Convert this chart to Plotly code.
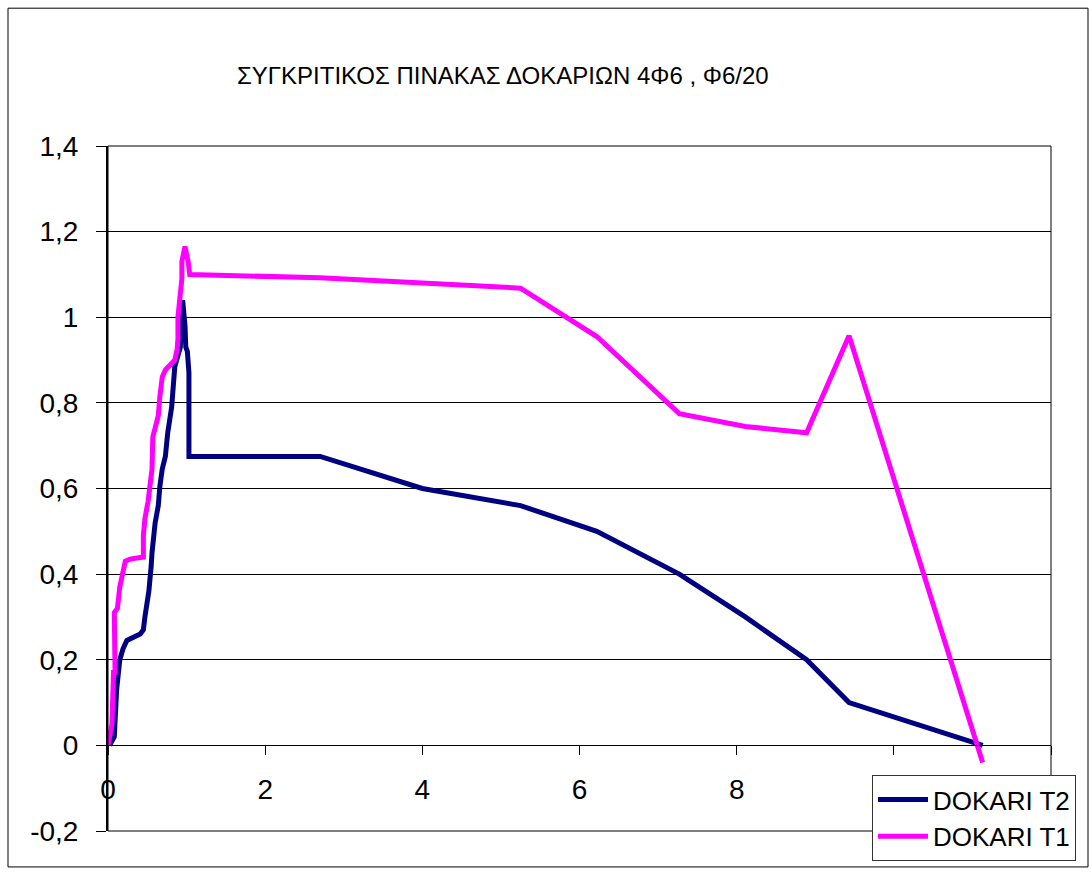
import plotly.graph_objects as go

# Beam T2 (navy) measurements
t2_x = [0.02, 0.08, 0.11, 0.13, 0.15, 0.19, 0.24, 0.41, 0.45, 0.47, 0.50, 0.52,
        0.55, 0.56, 0.60, 0.64, 0.66, 0.69, 0.73, 0.76, 0.81, 0.83, 0.85, 0.92,
        0.93, 0.95, 0.98, 0.99, 1.01, 1.03, 1.03, 2.70, 4.00, 5.25, 6.22, 7.27,
        8.11, 8.89, 9.43, 11.13]
t2_y = [0.00, 0.02, 0.13, 0.17, 0.20, 0.225, 0.245, 0.26, 0.27, 0.30, 0.33, 0.36,
        0.42, 0.45, 0.52, 0.56, 0.605, 0.645, 0.675, 0.73, 0.79, 0.845, 0.885, 0.93,
        0.98, 1.04, 0.98, 0.93, 0.92, 0.87, 0.675, 0.675, 0.60, 0.56, 0.50, 0.40,
        0.30, 0.20, 0.10, 0.00]

# Beam T1 (magenta) measurements
t1_x = [0.00, 0.05, 0.07, 0.09, 0.08, 0.12, 0.15, 0.19, 0.22, 0.28, 0.45, 0.45,
        0.47, 0.51, 0.54, 0.56, 0.57, 0.64, 0.66, 0.69, 0.73, 0.79, 0.85, 0.88,
        0.89, 0.89, 0.92, 0.94, 0.94, 0.98, 1.02, 1.04, 2.70, 4.00, 5.25, 6.22,
        7.27, 8.11, 8.89, 9.43, 11.13]
t1_y = [0.00, 0.05, 0.17, 0.17, 0.31, 0.32, 0.37, 0.40, 0.43, 0.435, 0.44, 0.49,
        0.53, 0.57, 0.605, 0.645, 0.72, 0.77, 0.815, 0.86, 0.877, 0.89, 0.90, 0.925,
        0.95, 1.00, 1.05, 1.09, 1.13, 1.165, 1.13, 1.10, 1.092, 1.08, 1.068, 0.955,
        0.775, 0.745, 0.73, 0.957, -0.04]

y_ticks = [-0.2, 0, 0.2, 0.4, 0.6, 0.8, 1.0, 1.2, 1.4]
y_labels = ["-0,2", "0", "0,2", "0,4", "0,6", "0,8", "1", "1,2", "1,4"]
# the last two x ticks sit under the legend box, so they carry no label
x_ticks = [0, 2, 4, 6, 8, 10, 12]
x_labels = ["0", "2", "4", "6", "8", "", ""]

title_text = "ΣΥΓΚΡΙΤΙΚΟΣ ΠΙΝΑΚΑΣ ΔΟΚΑΡΙΩΝ 4Φ6 , Φ6/20"
FONT = "Arial, Liberation Sans, sans-serif"

fig = go.Figure()
fig.add_trace(go.Scatter(x=t2_x, y=t2_y, mode="lines", name="DOKARI T2",
                         line=dict(color="#000080", width=5)))
fig.add_trace(go.Scatter(x=t1_x, y=t1_y, mode="lines", name="DOKARI T1",
                         line=dict(color="#FF00FF", width=5)))

fig.update_layout(
    width=1092, height=872,
    margin=dict(l=108, r=41, t=146, b=40),
    paper_bgcolor="white", plot_bgcolor="white",
    font=dict(family=FONT, color="black"),
    showlegend=True,
    legend=dict(x=(872 - 108) / 943, y=(832 - 775) / 686,
                xanchor="left", yanchor="top",
                bgcolor="white", bordercolor="#333333", borderwidth=1,
                font=dict(size=26, family=FONT, color="black"),
                tracegroupgap=0, itemwidth=50),
    xaxis=dict(range=[0, 12], tickvals=x_ticks, ticktext=x_labels,
               anchor="free", position=0.125,
               showline=True, linecolor="black", linewidth=1,
               ticks="outside", ticklen=9, tickcolor="black",
               showgrid=False, zeroline=False, ticklabelstandoff=10,
               tickfont=dict(size=28, family=FONT, color="black")),
    yaxis=dict(range=[-0.2, 1.4], tickvals=y_ticks, ticktext=y_labels,
               domain=[0, 1],
               showline=True, linecolor="black", linewidth=2,
               ticks="outside", ticklen=10, tickcolor="black",
               showgrid=True, gridcolor="black", gridwidth=1,
               zeroline=False, ticklabelstandoff=12,
               tickfont=dict(size=28, family=FONT, color="black")),
    annotations=[dict(text=title_text, xref="paper", yref="paper",
                      x=(503 - 108) / 943, y=(832 - 75) / 686,
                      xanchor="center", yanchor="middle", showarrow=False,
                      font=dict(size=24, family=FONT, color="black"))],
    shapes=[
        # plot-area frame
        dict(type="rect", xref="paper", yref="paper", x0=0, y0=0, x1=1, y1=1,
             line=dict(color="black", width=1), layer="above"),
        # outer chart border
        dict(type="rect", xref="paper", yref="paper",
             x0=(8 - 108) / 943, x1=(1088 - 108) / 943,
             y0=(832 - 868) / 686, y1=(832 - 8) / 686,
             line=dict(color="black", width=1)),
    ],
)

fig.write_html("out.html")
